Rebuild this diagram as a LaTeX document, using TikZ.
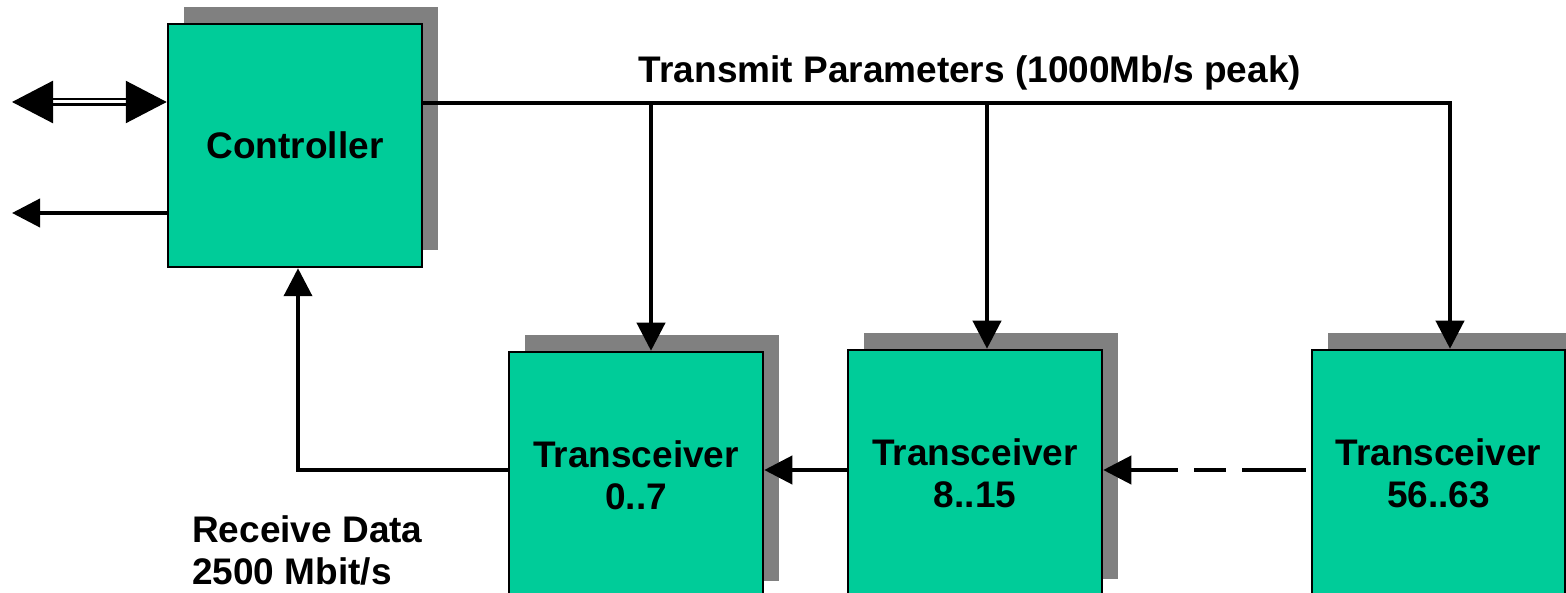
\documentclass[tikz,border=0pt]{standalone}
\usepackage{fontspec}
\setmainfont{Liberation Sans}
\usetikzlibrary{arrows.meta,shadows,calc}
\definecolor{boxgreen}{HTML}{00CC99}
\definecolor{shadowgray}{HTML}{808080}
\begin{document}
\begin{tikzpicture}[x=1pt,y=-1pt,
  font=\fontsize{37}{42}\selectfont\bfseries,
  unit/.style={draw=black, line width=2.5pt, fill=boxgreen, minimum width=254pt,
    inner sep=0pt, align=center,
    drop shadow={shadow xshift=16pt, shadow yshift=17pt, fill=shadowgray, opacity=1}},
  wire/.style={line width=4pt},
  tip/.style={-{Triangle[length=28pt,width=28pt]}},
  bigtip/.style={{Triangle[length=41pt,width=42pt]}-{Triangle[length=41pt,width=42pt]}},
]
\useasboundingbox (0,0) rectangle (1566,593);
\clip (0,0) rectangle (1566,593);

% blocks
\node[unit, minimum height=243pt] (ctrl) at (295,145.5) {Controller};
\node[unit, minimum height=246pt] (t0) at (636,475) {Transceiver\\0..7};
\node[unit, minimum height=246pt] (t8) at (975,473) {Transceiver\\8..15};
\node[unit, minimum width=253pt, minimum height=246pt] (t56) at (1438.5,473) {Transceiver\\56..63};

% labels
\node (tp) at (970,73) {Transmit Parameters (1000Mb/s peak)};
\node[anchor=west, align=left, inner sep=0pt] (rd) at (192,550) {Receive Data\\2500 Mbit/s};

% transmit bus
\coordinate (busL) at (ctrl.east |- 0,103);
\coordinate (d0) at ([xshift=15pt]t0.north);
\coordinate (d8) at ([xshift=12pt]t8.north);
\coordinate (d56) at ([xshift=11.5pt]t56.north);
\draw[wire,tip] (busL) -| (d56);
\draw[wire,tip] (d0 |- busL) -- (d0);
\draw[wire,tip] (d8 |- busL) -- (d8);

% receive chain
\coordinate (h56) at ([yshift=3pt]t56.west);
\coordinate (h8) at ([yshift=3pt]t8.west);
\coordinate (r0) at ([yshift=5pt]t0.west);
\coordinate (rc) at ([xshift=3pt]ctrl.south);
\draw[wire,tip,dash pattern=on 64pt off 16pt on 32pt off 16pt on 400pt] ([xshift=-5pt]h56) -- (h56 -| t8.east);
\draw[wire,tip] (h8) -- (h8 -| t0.east);
\draw[wire,tip] (r0) -| (rc);

% controller ports
\coordinate (ioL) at (12,102);
\coordinate (outL) at (12,213);
\draw[line width=2.5pt, double, double distance=3pt, bigtip] (ioL) -- (ioL -| ctrl.west);
\draw[wire,tip] (outL -| ctrl.west) -- (outL);
\end{tikzpicture}
\end{document}
